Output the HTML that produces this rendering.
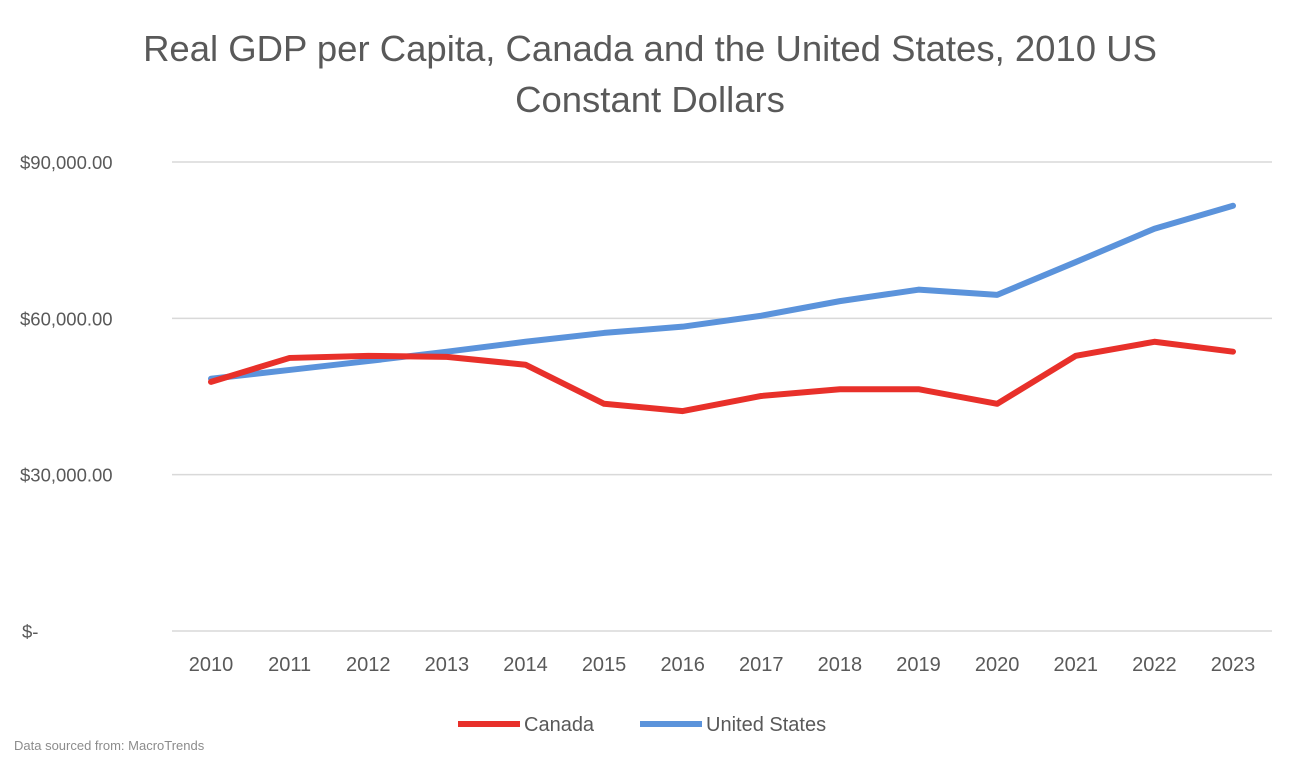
<!DOCTYPE html>
<html><head><meta charset="utf-8"><style>
body{margin:0;background:#fff;width:1302px;height:760px;overflow:hidden;font-family:"Liberation Sans",sans-serif}
</style></head><body>
<svg id="chart" width="1302" height="760">
<text x="650" y="61" text-anchor="middle" font-size="36.5" fill="#595959">Real GDP per Capita, Canada and the United States, 2010 US</text>
<text x="650" y="112" text-anchor="middle" font-size="36.5" fill="#595959">Constant Dollars</text>
<g id="grid"></g><g id="yt"></g><g id="xt"></g><g id="lines"></g>
<line x1="458" y1="724" x2="520" y2="724" stroke="#e8302a" stroke-width="6"/>
<text x="524" y="731" font-size="20" fill="#595959">Canada</text>
<line x1="640" y1="724" x2="702" y2="724" stroke="#5b93db" stroke-width="6"/>
<text x="706" y="731" font-size="20" fill="#595959">United States</text>
<text x="14" y="750" font-size="13" fill="#8c8c8c">Data sourced from: MacroTrends</text>
</svg>
<script>
const years=[2010,2011,2012,2013,2014,2015,2016,2017,2018,2019,2020,2021,2022,2023];
const canada=[47800,52400,52800,52600,51100,43600,42200,45100,46400,46400,43600,52800,55500,53600];
const us=[48400,50100,51800,53600,55500,57200,58400,60500,63300,65500,64500,70800,77200,81600];
const yTicks=[0,30000,60000,90000];
const yLabels=["$-","$30,000.00","$60,000.00","$90,000.00"];
const NS="http://www.w3.org/2000/svg";
const x=i=>211+i*(1233-211)/(years.length-1);
const y=v=>631-v*(631-162)/90000;
function mk(t,a,p){const e=document.createElementNS(NS,t);for(const k in a)e.setAttribute(k,a[k]);document.getElementById(p).appendChild(e);return e;}
yTicks.forEach((v,i)=>{
 const l=mk('line',{x1:172,x2:1272,y1:y(v),y2:y(v),stroke:'#d9d9d9','stroke-width':1.5},'grid');
 
 
 const t=mk('text',{x:i==0?22:20,y:y(v)+7,'font-size':18.5,fill:'#595959'},'yt');
 t.textContent=yLabels[i];
 
 
});
years.forEach((yr,i)=>{
 const t=mk('text',{x:x(i),y:671,'font-size':20,fill:'#595959','text-anchor':'middle'},'xt');
 t.textContent=yr;
 
 
});
[[us,'#5b93db','line-united-states'],[canada,'#e8302a','line-canada']].forEach(([d,c,n])=>{
 const p=mk('polyline',{points:d.map((v,i)=>x(i)+','+y(v)).join(' '),fill:'none',stroke:c,'stroke-width':6,'stroke-linejoin':'round','stroke-linecap':'round'},'lines');
 
 
});
</script>
</body></html>
